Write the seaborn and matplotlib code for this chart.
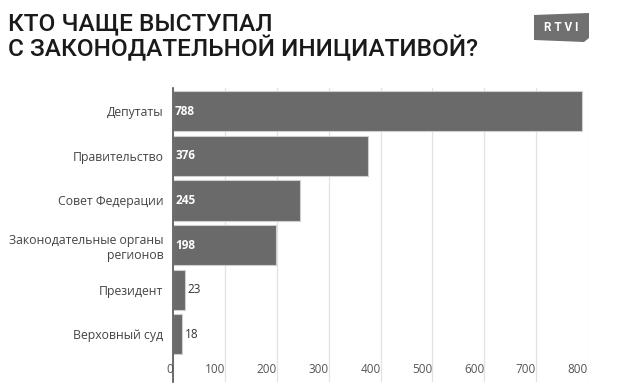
import matplotlib
matplotlib.use("Agg")
import matplotlib.pyplot as plt
import seaborn as sns
import pandas as pd
from matplotlib.patches import Polygon

categories = ["Депутаты", "Правительство", "Совет Федерации",
              "Законодательные органы\nрегионов", "Президент", "Верховный суд"]
values = [788, 376, 245, 198, 23, 18]
xticks = [0, 100, 200, 300, 400, 500, 600, 700, 800]

df = pd.DataFrame({"who": categories, "n": values})

sns.set_style("white")
plt.rcParams["font.family"] = ["Open Sans", "DejaVu Sans"]

fig = plt.figure(figsize=(6.24, 3.86), dpi=100)
ax = fig.add_axes([173 / 624, 1 - 382 / 386, (588 - 173) / 624, (382 - 88) / 386])

sns.barplot(data=df, x="n", y="who", ax=ax, color="#6a6a6a", saturation=1,
            edgecolor="#cfcfcf", linewidth=0.8, width=0.9, zorder=3)

ax.set_xlim(0, 800)
ax.set_ylim(6.07, -0.52)
ax.set_xticks(xticks)
ax.set_xticklabels([str(t) for t in xticks])
for lab in ax.get_xticklabels():
    lab.set_horizontalalignment("right")
ax.tick_params(axis="x", length=0, pad=-14, labelsize=8.5, labelcolor="#555555")
ax.tick_params(axis="y", length=0, pad=7, labelsize=8.8, labelcolor="#444444")
for lab in ax.get_yticklabels():
    lab.set_multialignment("right")
ax.grid(axis="x", color="#e2e2e2", linewidth=0.9, zorder=0)
ax.set_xlabel("")
ax.set_ylabel("")
for s in ["top", "right", "bottom"]:
    ax.spines[s].set_visible(False)
ax.spines["left"].set_color("#555555")
ax.spines["left"].set_linewidth(1.2)
ax.spines["left"].set_zorder(5)

for i, v in enumerate(values):
    if v > 100:
        ax.text(4, i, str(v), color="white", fontsize=8.5, fontweight="bold",
                va="center", ha="left", zorder=6)
    else:
        ax.text(v + 4, i, str(v), color="#333333", fontsize=8.5,
                va="center", ha="left", zorder=6)

fig.text(8 / 624, 1 - 12 / 386,
         "КТО ЧАЩЕ ВЫСТУПАЛ\nС ЗАКОНОДАТЕЛЬНОЙ ИНИЦИАТИВОЙ?",
         fontsize=17.6, fontweight="medium", color="#1a1a1a", va="top", ha="left",
         family=["Roboto", "DejaVu Sans"], linespacing=1.02)

logo = Polygon([(534 / 624, 1 - 15 / 386), (560 / 624, 1 - 14 / 386),
                (589 / 624, 1 - 13 / 386), (589 / 624, 1 - 38 / 386),
                (584 / 624, 1 - 42 / 386), (534 / 624, 1 - 40 / 386)],
               closed=True, transform=fig.transFigure, facecolor="#707070",
               edgecolor="none")
fig.patches.append(logo)
fig.text(561 / 624, 1 - 27.5 / 386, "R T V I", color="white", fontsize=8.5,
         fontweight="bold", ha="center", va="center",
         family=["Roboto", "DejaVu Sans"])

fig.savefig("out.png", dpi=100)
